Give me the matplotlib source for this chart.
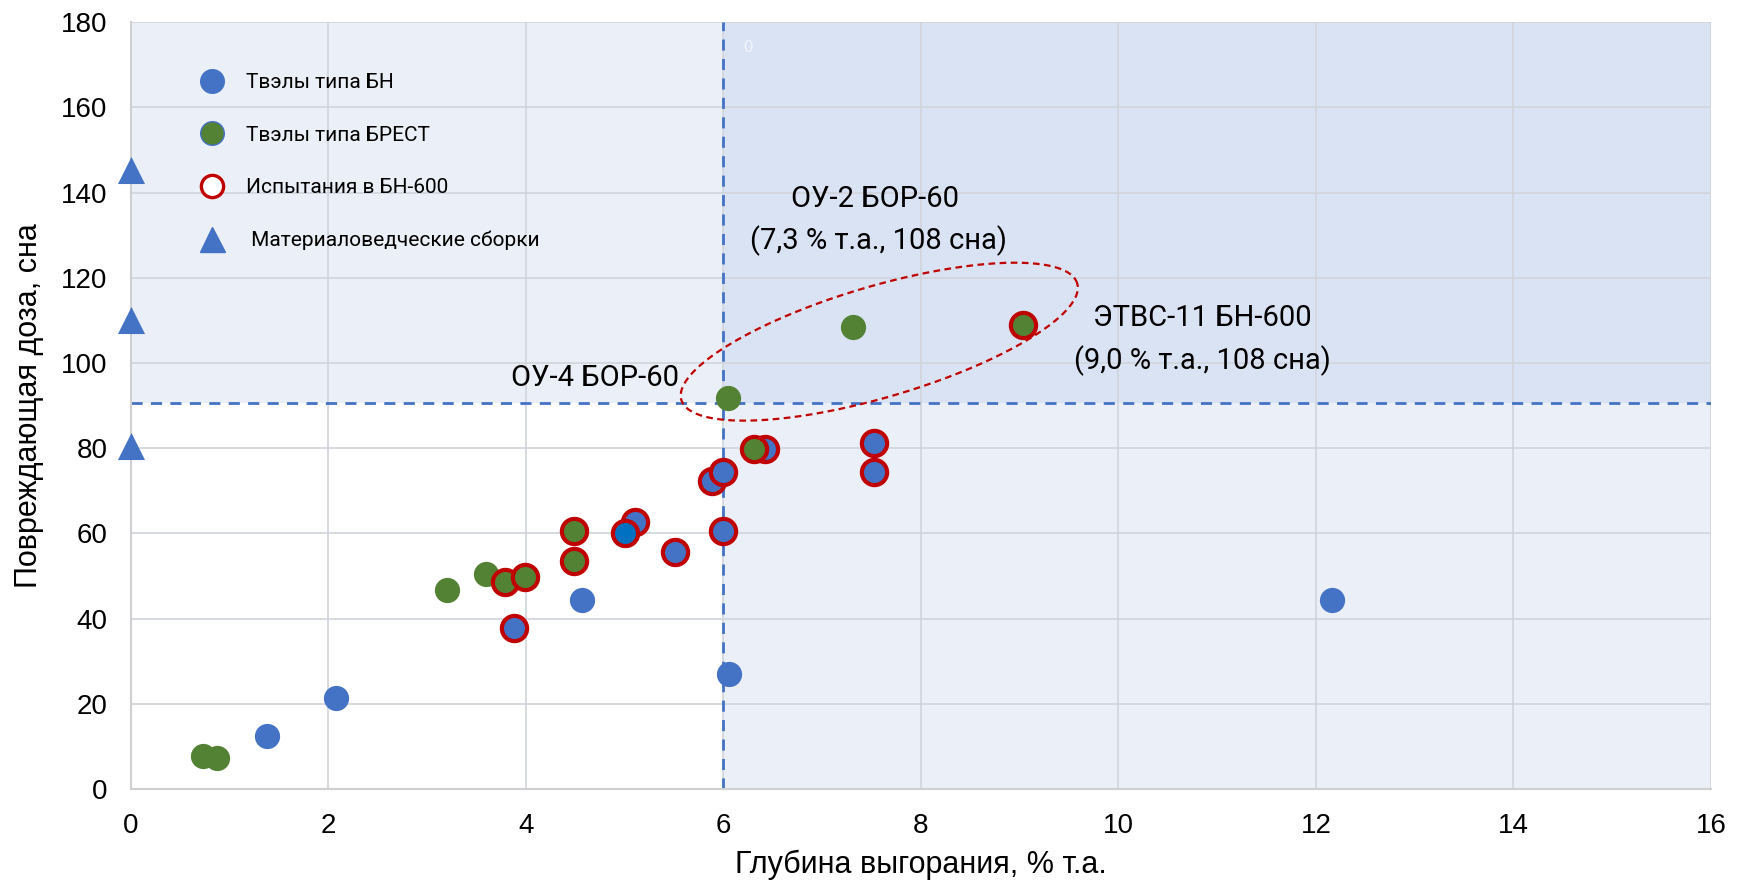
import numpy as np
import matplotlib.pyplot as plt
from matplotlib.lines import Line2D

# ---- data ----
bn_x = [1.38, 2.08, 4.57, 6.06, 12.16]
bn_y = [12.5, 21.4, 44.4, 26.9, 44.4]

brest_x = [0.73, 0.87, 3.2, 3.59, 6.05, 7.31]
brest_y = [7.8, 7.3, 46.7, 50.4, 91.8, 108.5]

test_bn_x = [3.88, 5.1, 5.51, 5.88, 6.0, 6.0, 6.42, 7.52, 7.52]
test_bn_y = [37.8, 62.6, 55.6, 72.3, 74.4, 60.5, 79.8, 81.1, 74.4]

test_bn_dark_x = [5.0]
test_bn_dark_y = [60.0]

test_brest_x = [3.79, 3.99, 4.49, 4.49, 6.31, 9.03]
test_brest_y = [48.5, 49.8, 60.5, 53.5, 79.8, 108.8]

assembly_x = [0, 0, 0]
assembly_y = [145.3, 110.0, 80.6]

x_limit = 6.0
y_limit = 90.5

legend_labels = ["Твэлы типа БН", "Твэлы типа БРЕСТ", "Испытания в БН-600",
                 " Материаловедческие сборки"]

C_BLUE = "#4472C4"
C_DBLUE = "#0070C0"
C_GREEN = "#548235"
C_RED = "#C00000"
C_LIGHT = "#EBEFF8"
C_DARK = "#DAE3F3"

NARROW = ["Roboto", "DejaVu Sans"]
plt.rcParams["font.family"] = ["Liberation Sans", "DejaVu Sans"]

fig = plt.figure(figsize=(17.42, 8.85), dpi=100)
ax = fig.add_axes([0.0752, 0.1085, 0.907, 0.8665])
ax.set_xlim(0, 16)
ax.set_ylim(0, 180)

# shaded zones
ax.axvspan(0, x_limit, ymin=y_limit / 180, ymax=1, color=C_LIGHT, zorder=0, lw=0)
ax.axvspan(x_limit, 16, ymin=y_limit / 180, ymax=1, color=C_DARK, zorder=0, lw=0)
ax.axvspan(x_limit, 16, ymin=0, ymax=y_limit / 180, color=C_LIGHT, zorder=0, lw=0)

ax.set_xticks(np.arange(0, 17, 2))
ax.set_yticks(np.arange(0, 181, 20))
ax.grid(True, color="#D0D4DC", lw=1.2, zorder=1)
ax.set_axisbelow(True)
for s in ["top", "right"]:
    ax.spines[s].set_visible(False)
for s in ["left", "bottom"]:
    ax.spines[s].set_color("#D0D0D0")
    ax.spines[s].set_linewidth(1.5)
ax.tick_params(length=0, labelsize=20)
ax.tick_params(axis="x", pad=17)
ax.tick_params(axis="y", pad=17)

ax.axvline(x_limit, color=C_BLUE, ls=(0, (4, 3)), lw=2, zorder=2)
ax.axhline(y_limit, color=C_BLUE, ls=(0, (4, 3)), lw=2, zorder=2)

ms = 330
ax.scatter(bn_x, bn_y, s=ms, color=C_BLUE, zorder=3, lw=0)
ax.scatter(brest_x, brest_y, s=ms, color=C_GREEN, zorder=3, lw=0)
ax.scatter(test_bn_x, test_bn_y, s=ms, color=C_BLUE, edgecolor=C_RED, lw=3, zorder=4)
ax.scatter(test_brest_x, test_brest_y, s=ms, color=C_GREEN, edgecolor=C_RED, lw=3, zorder=5)
ax.scatter(test_bn_dark_x, test_bn_dark_y, s=ms, color=C_DBLUE, edgecolor=C_RED, lw=3, zorder=5)
ax.scatter(assembly_x, assembly_y, s=380, marker="^", color=C_BLUE, zorder=5,
           lw=0, clip_on=False)

# dashed ellipse around the high-dose points (built in pixel-like axes space)
t = np.linspace(0, 2 * np.pi, 300)
a, b, th = 185.7, 50.0, np.deg2rad(16.4)
dx = a * np.cos(t) * np.cos(th) - b * np.sin(t) * np.sin(th)
dy = a * np.cos(t) * np.sin(th) + b * np.sin(t) * np.cos(th)
ax.plot(0.4736 + dx / 1422, 0.5833 + dy / 690, transform=ax.transAxes,
        color=C_RED, ls=(0, (3, 2)), lw=1.6, zorder=6)

ann = dict(fontsize=21, family=NARROW, va="center")
ax.text(7.53, 138.5, "ОУ-2 БОР-60", ha="center", **ann)
ax.text(7.57, 128.8, "(7,3 % т.а., 108 сна)", ha="center", **ann)
ax.text(10.85, 110.5, "ЭТВС-11 БН-600", ha="center", **ann)
ax.text(10.85, 100.6, "(9,0 % т.а., 108 сна)", ha="center", **ann)
ax.text(5.55, 96.5, "ОУ-4 БОР-60", ha="right", **ann)
ax.text(6.25, 174, "0", fontsize=12, color="#F2F5FB", ha="center", va="center")

ax.set_xlabel("Глубина выгорания, % т.а.", fontsize=22, labelpad=8)
ax.set_ylabel("Повреждающая доза, сна", fontsize=22, labelpad=12)

handles = [
    Line2D([], [], ls="", marker="o", ms=17, mfc=C_BLUE, mec=C_BLUE),
    Line2D([], [], ls="", marker="o", ms=17, mfc=C_GREEN, mec=C_BLUE, mew=1),
    Line2D([], [], ls="", marker="o", ms=16, mfc="white", mec=C_RED, mew=2.4),
    Line2D([], [], ls="", marker="^", ms=18, mfc=C_BLUE, mec=C_BLUE),
]
ax.legend(handles, legend_labels, loc="upper left", bbox_to_anchor=(0.033, 0.944),
          frameon=False, prop={"family": NARROW, "size": 15}, labelspacing=1.6,
          handletextpad=0.6, borderaxespad=0)

fig.savefig("out.png", dpi=100)
